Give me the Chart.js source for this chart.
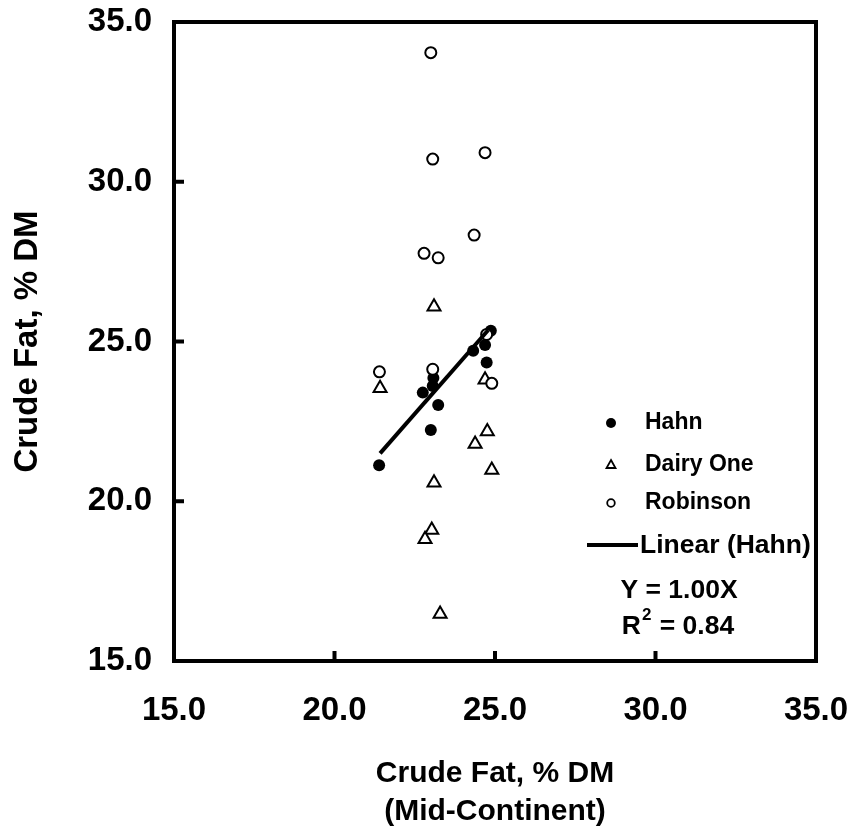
<!DOCTYPE html>
<html>
<head>
<meta charset="utf-8">
<script src="https://cdn.jsdelivr.net/npm/chart.js@4/dist/chart.umd.min.js"></script>
<style>
html,body{margin:0;padding:0;background:#fff;}
#wrap{width:849px;height:831px;}
</style>
</head>
<body>
<div id="wrap"><canvas id="c" width="849" height="831"></canvas></div>
<script>
// Data
const hahnX = [21.39, 23.00, 23.23, 22.75, 23.06, 23.08, 24.32, 24.74, 24.69, 24.87];
const hahnY = [21.13, 22.23, 23.01, 23.40, 23.61, 23.86, 24.71, 24.34, 24.89, 25.34];

const dairyX = [23.10, 21.42, 24.69, 24.76, 24.38, 24.90, 23.10, 23.03, 22.82, 23.29];
const dairyY = [26.09, 23.54, 23.80, 22.18, 21.79, 20.98, 20.58, 19.10, 18.81, 16.47];

const robX = [23.00, 23.06, 24.69, 24.35, 22.79, 23.23, 21.40, 23.06, 24.74, 24.90];
const robY = [34.04, 30.71, 30.91, 28.33, 27.76, 27.62, 24.05, 24.13, 25.22, 23.69];

const trendX = [21.42, 24.79];
const trendY = [21.50, 25.36];

const tickValues = [15, 20, 25, 30, 35];
const legendLabels = ['Hahn', 'Dairy One', 'Robinson', 'Linear (Hahn)'];
const equationText = 'Y = 1.00X';
const r2Value = '0.84';
const xTitle = ['Crude Fat, % DM', '(Mid-Continent)'];
const yTitle = 'Crude Fat, % DM';

const FONT = '"Liberation Sans", Arial, Helvetica, sans-serif';
const pts = (xs, ys) => xs.map((x, i) => ({x: x, y: ys[i]}));

const framePlugin = {
  id: 'frame',
  afterDatasetsDraw(chart) {
    const {ctx, chartArea: a, scales} = chart;
    ctx.save();
    ctx.strokeStyle = '#000';
    ctx.lineWidth = 4;
    ctx.lineCap = 'butt';
    // inside tick marks
    ctx.beginPath();
    tickValues.forEach(v => {
      if (v > 15 && v < 35) {
        const px = scales.x.getPixelForValue(v);
        ctx.moveTo(px, a.bottom); ctx.lineTo(px, a.bottom - 10);
        const py = scales.y.getPixelForValue(v);
        ctx.moveTo(a.left, py); ctx.lineTo(a.left + 10, py);
      }
    });
    ctx.stroke();
    ctx.strokeRect(a.left, a.top, a.right - a.left, a.bottom - a.top);

    // legend
    const mx = 611, tx = 645;
    ctx.fillStyle = '#000';
    ctx.font = 'bold 23px ' + FONT;
    ctx.textBaseline = 'middle';
    ctx.textAlign = 'left';
    // Hahn
    ctx.beginPath(); ctx.arc(mx, 423, 5, 0, Math.PI * 2); ctx.fill();
    ctx.fillText(legendLabels[0], tx, 423);
    // Dairy One triangle
    ctx.lineWidth = 1.8;
    ctx.beginPath();
    ctx.moveTo(mx, 460); ctx.lineTo(mx + 4.5, 468); ctx.lineTo(mx - 4.5, 468); ctx.closePath();
    ctx.stroke();
    ctx.fillText(legendLabels[1], tx, 465);
    // Robinson
    ctx.beginPath(); ctx.arc(mx, 503, 3.8, 0, Math.PI * 2); ctx.stroke();
    ctx.fillText(legendLabels[2], tx, 503);
    // Linear
    ctx.lineWidth = 4;
    ctx.beginPath(); ctx.moveTo(587, 545); ctx.lineTo(638, 545); ctx.stroke();
    ctx.font = 'bold 26.5px ' + FONT;
    ctx.fillText(legendLabels[3], 640, 546);
    // equation
    ctx.textAlign = 'center';
    ctx.fillText(equationText, 679, 591);
    // R^2
    const base = 'R';
    const rest = ' = ' + r2Value;
    ctx.textAlign = 'left';
    const wR = ctx.measureText(base).width;
    ctx.font = 'bold 17px ' + FONT;
    const w2 = ctx.measureText('2').width;
    ctx.font = 'bold 26.5px ' + FONT;
    const wRest = ctx.measureText(rest).width;
    let sx = 678 - (wR + w2 + wRest + 2) / 2;
    ctx.fillText(base, sx, 627);
    ctx.font = 'bold 17px ' + FONT;
    ctx.fillText('2', sx + wR + 1, 615);
    ctx.font = 'bold 26.5px ' + FONT;
    ctx.fillText(rest, sx + wR + w2 + 2, 627);
    ctx.restore();
  }
};

new Chart(document.getElementById('c'), {
  type: 'scatter',
  data: {
    datasets: [
      {
        label: legendLabels[0], data: pts(hahnX, hahnY),
        pointStyle: 'circle', pointRadius: 6, pointHoverRadius: 6,
        backgroundColor: '#000', borderColor: '#000', borderWidth: 0, order: 4
      },
      {
        label: legendLabels[1], data: pts(dairyX, dairyY),
        pointStyle: 'triangle', pointRadius: 7.5, pointHoverRadius: 7.5,
        backgroundColor: '#fff', borderColor: '#000', borderWidth: 2, order: 3
      },
      {
        label: legendLabels[2], data: pts(robX, robY),
        pointStyle: 'circle', pointRadius: 5.5, pointHoverRadius: 5.5,
        backgroundColor: '#fff', borderColor: '#000', borderWidth: 2, order: 2
      },
      {
        type: 'line', label: legendLabels[3], data: pts(trendX, trendY),
        borderColor: '#000', borderWidth: 4, pointRadius: 0, fill: false,
        showLine: true, order: 1
      }
    ]
  },
  options: {
    responsive: false,
    animation: false,
    devicePixelRatio: 1,
    layout: {padding: {left: 0, right: 33, top: 22, bottom: 0}},
    plugins: {legend: {display: false}, tooltip: {enabled: false}},
    scales: {
      x: {
        type: 'linear', min: 15, max: 35,
        afterBuildTicks: s => { s.ticks = tickValues.map(v => ({value: v})); },
        afterFit: s => { s.height = 170; s.paddingLeft = 0; s.paddingRight = 0; },
        grid: {display: false, drawTicks: false},
        border: {display: false},
        ticks: {
          color: '#000', padding: 30, maxRotation: 0,
          font: {family: FONT, size: 33, weight: 'bold'},
          callback: v => Number(v).toFixed(1)
        },
        title: {
          display: true, text: xTitle, color: '#000',
          font: {family: FONT, size: 30, weight: 'bold', lineHeight: 1.27},
          padding: {top: 16, bottom: 0}
        }
      },
      y: {
        type: 'linear', min: 15, max: 35,
        afterBuildTicks: s => { s.ticks = tickValues.map(v => ({value: v})); },
        afterFit: s => { s.width = 174; s.paddingTop = 0; s.paddingBottom = 0; },
        grid: {display: false, drawTicks: false},
        border: {display: false},
        ticks: {
          color: '#000', padding: 22,
          font: {family: FONT, size: 33, weight: 'bold'},
          callback: v => Number(v).toFixed(1)
        },
        title: {
          display: true, text: yTitle, color: '#000',
          font: {family: FONT, size: 33, weight: 'bold'},
          padding: {top: 8, bottom: 0}
        }
      }
    }
  },
  plugins: [framePlugin]
});
</script>
</body>
</html>
